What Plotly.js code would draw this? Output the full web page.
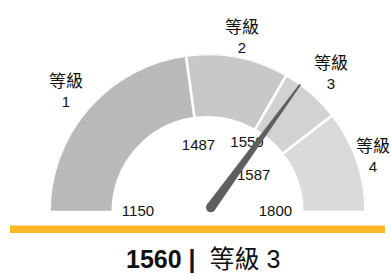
<!DOCTYPE html>
<html>
<head>
<meta charset="utf-8">
<script src="https://cdn.plot.ly/plotly-3.0.1.min.js"></script>
<style>
  html, body { margin: 0; padding: 0; background: #ffffff; }
  #chart { width: 391px; height: 278px; }
</style>
</head>
<body>
<div id="chart"></div>
<script>
// ---- data ----
var bandEdges    = [1150, 1487, 1550, 1587, 1800];   // band boundaries (tick labels)
var bandNames    = ["等級 1", "等級 2", "等級 3", "等級 4"];
var visibleRange = [1350, 1650];                     // value span drawn over the half circle
var needleValue  = 1560;

// ---- styles ----
var bandColors = ["#b9b9b9", "#c8c8c8", "#d2d2d2", "#dadada"];
var FONT = "Liberation Sans, Arial, Noto Sans CJK TC, sans-serif";
var innerR = 0.6, outerR = 1.0;
var tickR  = [0.44, 0.42, 0.50, 0.37, 0.43];          // radial placement of each tick label
var labelR = [1.19, 1.15, 1.19, 1.16];                // radial placement of band labels

// value -> angle (degrees, 0 = left end, 180 = right end)
function toDeg(v) {
  var f = (v - visibleRange[0]) / (visibleRange[1] - visibleRange[0]);
  f = Math.max(0, Math.min(1, f));
  return f * 180;
}

// bands
var bTheta = [], bWidth = [], bR = [], bBase = [];
for (var i = 0; i < bandNames.length; i++) {
  var a0 = toDeg(bandEdges[i]), a1 = toDeg(bandEdges[i + 1]);
  bTheta.push((a0 + a1) / 2);
  bWidth.push(a1 - a0);
  bR.push(outerR - innerR);
  bBase.push(innerR);
}

var bands = {
  type: "barpolar",
  theta: bTheta, width: bWidth, r: bR, base: bBase,
  marker: { color: bandColors, line: { color: "#ffffff", width: 2.5 } },
  hoverinfo: "skip"
};

// tick labels
var tickLabels = {
  type: "scatterpolar", mode: "text",
  r: tickR,
  theta: bandEdges.map(toDeg),
  text: bandEdges.map(String),
  textposition: "middle center",
  textfont: { family: FONT, size: 15, color: "#111111" },
  cliponaxis: false, hoverinfo: "skip"
};

// needle
var nDeg = toDeg(needleValue);
var d0 = 0.035, d1 = 1.045, hw0 = 0.029, hw1 = 0.003;
function pt(a, p) {
  return { r: Math.sqrt(a * a + p * p), t: nDeg + Math.atan2(p, a) * 180 / Math.PI };
}
var poly = [pt(d0, -hw0), pt(d1, -hw1), pt(d1, hw1), pt(d0, hw0), pt(d0, -hw0)];
var needle = {
  type: "scatterpolar", mode: "lines", fill: "toself",
  r: poly.map(function (p) { return p.r; }),
  theta: poly.map(function (p) { return p.t; }),
  line: { color: "#5e5e5e", width: 0.5 },
  fillcolor: "#5e5e5e",
  cliponaxis: false, hoverinfo: "skip"
};
var needleCap = {
  type: "scatterpolar", mode: "markers",
  r: [d0], theta: [nDeg],
  marker: { color: "#5e5e5e", size: 9.5, line: { width: 0 } },
  cliponaxis: false, hoverinfo: "skip"
};

// current level
var level = 0;
for (var k = 0; k < bandNames.length; k++) {
  if (needleValue >= bandEdges[k] && needleValue <= bandEdges[k + 1]) { level = k; break; }
}

var W = 391, H = 278;
var cx = 207.5, cy = 212, R = 158;

// band label annotations placed around the arc (polar -> paper)
var annots = bandNames.map(function (n, j) {
  var a = bTheta[j] * Math.PI / 180;
  var px = cx - R * labelR[j] * Math.cos(a);
  var py = cy - R * labelR[j] * Math.sin(a) + 3;
  px = Math.min(px, W - 18);
  var parts = n.split(" ");
  return {
    xref: "paper", yref: "paper", x: px / W, y: (H - py) / H,
    xanchor: "center", yanchor: "middle", showarrow: false,
    text: '<span style="font-size:17px">' + parts[0] + "</span><br>" + parts[1],
    font: { family: FONT, size: 15, color: "#111111" }
  };
});
annots.push({
  xref: "paper", yref: "paper", x: 203 / W, y: (H - 259) / H,
  xanchor: "center", yanchor: "middle", showarrow: false,
  text: "<b>" + needleValue + " |</b>  " + bandNames[level],
  font: { family: FONT, size: 25, color: "#111111" }
});

var layout = {
  width: W, height: H,
  margin: { l: 0, r: 0, t: 0, b: 0 },
  paper_bgcolor: "#ffffff",
  showlegend: false,
  polar: {
    domain: { x: [(cx - R) / W, (cx + R) / W], y: [(H - cy) / H, (H - cy + R) / H] },
    sector: [0, 180],
    bgcolor: "rgba(0,0,0,0)",
    radialaxis: { visible: false, range: [0, 1], showgrid: false },
    angularaxis: { visible: false, rotation: 180, direction: "clockwise", showgrid: false }
  },
  shapes: [{
    type: "rect", xref: "paper", yref: "paper",
    x0: 10 / W, x1: 385 / W, y0: (H - 233) / H, y1: (H - 225.5) / H,
    fillcolor: "#fcb62a", line: { width: 0 }, layer: "above"
  }],
  annotations: annots
};

Plotly.newPlot("chart", [bands, tickLabels, needle, needleCap], layout,
  { staticPlot: true, displayModeBar: false });
</script>
</body>
</html>
